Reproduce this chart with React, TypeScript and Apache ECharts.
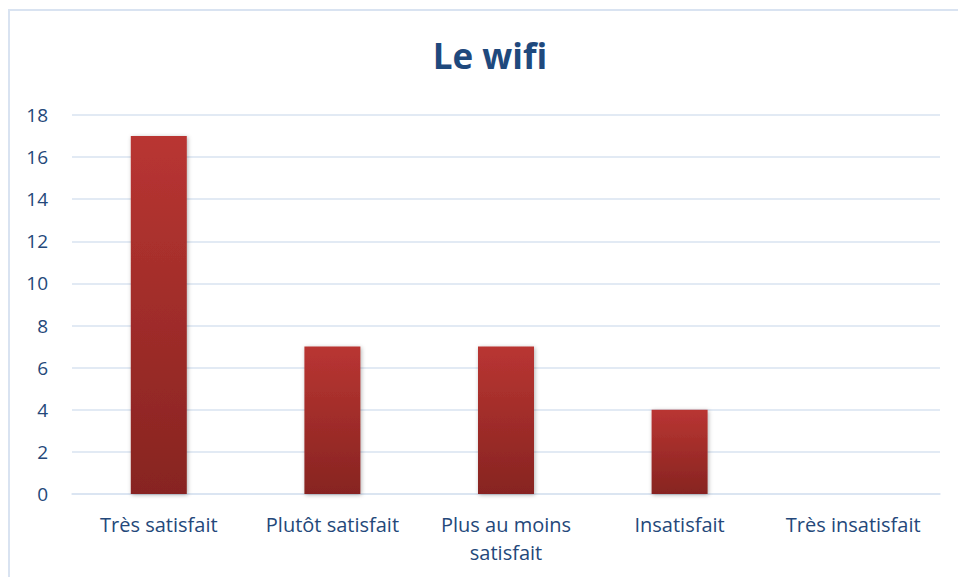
import React, { useEffect, useRef } from "react";
import * as echarts from "echarts";

const categories = ["Très satisfait", "Plutôt satisfait", "Plus au moins\nsatisfait", "Insatisfait", "Très insatisfait"];
const values = [17, 7, 7, 4, 0];
const yTicks = { min: 0, max: 18, interval: 2 };
const titleText = "Le wifi";

const TEXT = "#24487a";
const GRID = "#d9e3f1";
const FONT = "'Open Sans', 'Noto Sans', sans-serif";

export default function App() {
  const ref = useRef<HTMLDivElement>(null);
  useEffect(() => {
    if (!ref.current) return;
    const chart = echarts.init(ref.current, undefined, { renderer: "svg" });
    chart.setOption({
      animation: false,
      backgroundColor: "#ffffff",
      title: {
        text: titleText,
        left: 485,
        top: 33,
        textAlign: "center",
        textStyle: { color: "#1f497d", fontSize: 35, fontWeight: "bold", fontFamily: FONT },
      },
      graphic: [
        {
          type: "rect",
          shape: { x: 9, y: 10, width: 970, height: 600 },
          style: { fill: "none", stroke: GRID, lineWidth: 2 },
          silent: true,
        },
      ],
      grid: { left: 72, right: 18, top: 115, bottom: 83, containLabel: false },
      xAxis: {
        type: "category",
        data: categories,
        axisLine: { show: true, lineStyle: { color: GRID, width: 1.5 } },
        axisTick: { show: false },
        axisLabel: {
          color: TEXT,
          fontSize: 20,
          fontFamily: FONT,
          margin: 16,
          lineHeight: 28,
          interval: 0,
        },
      },
      yAxis: {
        type: "value",
        min: yTicks.min,
        max: yTicks.max,
        interval: yTicks.interval,
        axisLine: { show: false },
        axisTick: { show: false },
        splitLine: { show: true, lineStyle: { color: GRID, width: 1.5 } },
        axisLabel: { color: TEXT, fontSize: 19, fontFamily: FONT, margin: 24 },
      },
      series: [
        {
          type: "bar",
          data: values,
          barWidth: 56,
          itemStyle: {
            color: new echarts.graphic.LinearGradient(0, 0, 0, 1, [
              { offset: 0, color: "#b93532" },
              { offset: 1, color: "#872421" },
            ]),
            shadowBlur: 4,
            shadowColor: "rgba(0,0,0,0.3)",
            shadowOffsetX: 1,
            shadowOffsetY: 1,
          },
        },
      ],
    });
    return () => chart.dispose();
  }, []);
  return (
    <div
      ref={ref}
      style={{ position: "fixed", left: 0, top: 0, width: 958, height: 577 }}
    />
  );
}
